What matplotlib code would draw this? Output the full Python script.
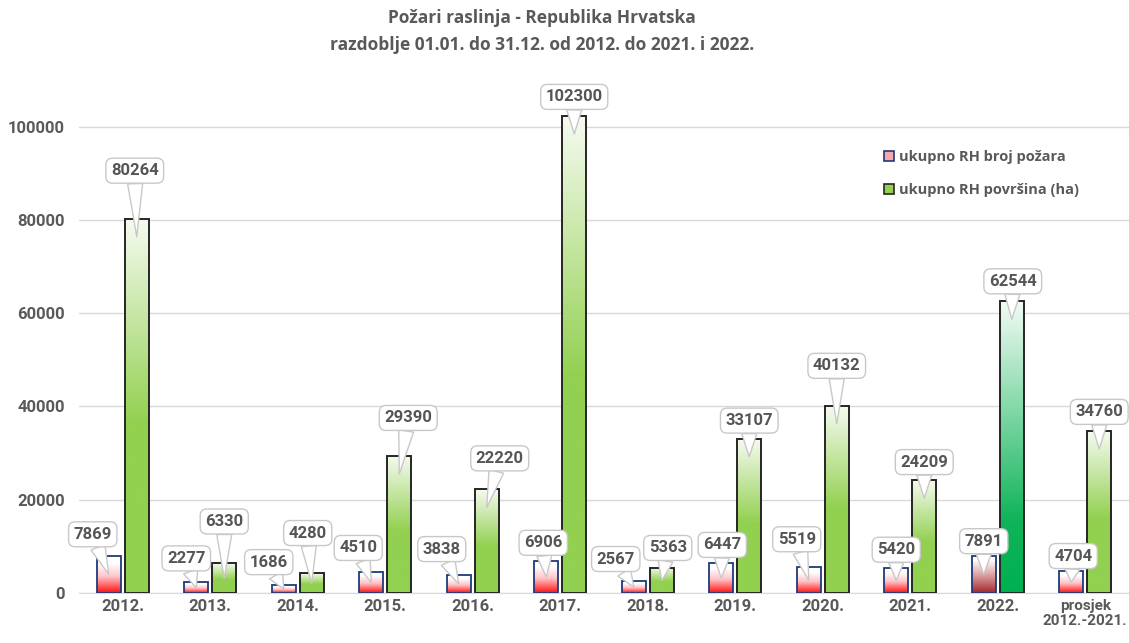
import numpy as np
import matplotlib
matplotlib.use("Agg")
import matplotlib.pyplot as plt
from matplotlib.colors import LinearSegmentedColormap
from matplotlib.patches import Patch

# ---------------- data ----------------
categories = ["2012.", "2013.", "2014.", "2015.", "2016.", "2017.", "2018.",
              "2019.", "2020.", "2021.", "2022.", "prosjek\n2012.-2021."]
broj_pozara = [7869, 2277, 1686, 4510, 3838, 6906, 2567, 6447, 5519, 5420, 7891, 4704]
povrsina_ha = [80264, 6330, 4280, 29390, 22220, 102300, 5363, 33107, 40132, 24209, 62544, 34760]
series_names = ["ukupno RH broj požara", "ukupno RH površina (ha)"]
y_ticks = [0, 20000, 40000, 60000, 80000, 100000]
title_lines = ["Požari raslinja - Republika Hrvatska",
               "razdoblje 01.01. do 31.12. od 2012. do 2021. i 2022."]

# label callout offsets (pixels: dx right, dy up from bar top to box centre)
red_off = [(-16, 22), (-10, 24), (-15, 23), (-13, 24), (-17, 26), (-3, 18),
           (-18, 22), (1, 18), (-12, 28), (0, 18), (0, 15), (2, 15)]
green_off = [(-2, 48), (0, 42), (-4, 40), (9, 38), (13, 31), (0, 19),
             (6, 20), (0, 18), (0, 40), (0, 18), (1, 20), (0, 19)]

W, H, DPI = 1129, 643, 100
LBL_FONT = ['Roboto', 'DejaVu Sans']
plt.rcParams['font.family'] = ['Open Sans', 'DejaVu Sans']
fig = plt.figure(figsize=(W / DPI, H / DPI), dpi=DPI)
fig.patch.set_facecolor('white')

ax_left, ax_right, ax_bottom, ax_top = 79, 1129, 593, 80
ax = fig.add_axes([ax_left / W, (H - ax_bottom) / H,
                   (ax_right - ax_left) / W, (ax_bottom - ax_top) / H])
ymax = 110000
px_per_unit = (ax_bottom - ax_top) / ymax

TXT = '#595959'
GRID = '#D9D9D9'

cm_red = LinearSegmentedColormap.from_list('r', [(0, '#FF1010'), (0.45, '#FFC4C8'), (0.8, '#FFFFFF'), (1, '#FFFFFF')])
cm_red_dark = LinearSegmentedColormap.from_list('rd', [(0, '#A3262B'), (0.5, '#DDA3A4'), (0.9, '#FFFFFF'), (1, '#FFFFFF')])
cm_green = LinearSegmentedColormap.from_list('g', [(0, '#92D050'), (0.45, '#92D050'), (1, '#F6FBF1')])
cm_green_dark = LinearSegmentedColormap.from_list('gd', [(0, '#00B050'), (0.25, '#10B459'), (1, '#F2FBF5')])

x = np.arange(len(categories))
bw = 24 / 87.5
off = 14 / 87.5

red_bars = ax.bar(x - off, broj_pozara, bw, facecolor='none', edgecolor='#1F3A7A', linewidth=1.3, zorder=3)
green_bars = ax.bar(x + off, povrsina_ha, bw, facecolor='none', edgecolor='#262626', linewidth=1.4, zorder=3)

grad = np.linspace(0, 1, 256)[:, None]
n = len(categories)
for i, (rb, gb) in enumerate(zip(red_bars, green_bars)):
    for bar, cmap in ((rb, cm_red_dark if i == n - 2 else cm_red),
                      (gb, cm_green_dark if i == n - 2 else cm_green)):
        x0 = bar.get_x(); w = bar.get_width(); h = bar.get_height()
        im = ax.imshow(grad, extent=(x0, x0 + w, 0, h), origin='lower', aspect='auto',
                       cmap=cmap, vmin=0, vmax=1, zorder=2, interpolation='bilinear')
        im.set_clip_path(bar)

ax.set_xlim(-0.5, n - 0.5)
ax.set_ylim(0, ymax)
ax.set_yticks(y_ticks)
ax.set_yticklabels([str(t) for t in y_ticks])
ax.set_xticks(x)
ax.set_xticklabels(categories)
ax.grid(axis='y', color=GRID, linewidth=1, zorder=0)
ax.set_axisbelow(True)
for s in ('top', 'right', 'left'):
    ax.spines[s].set_visible(False)
ax.spines['bottom'].set_color(GRID)
ax.tick_params(axis='both', length=0, colors=TXT, labelsize=12)
ax.tick_params(axis='x', pad=4)
ax.tick_params(axis='y', pad=10)
for t in ax.get_xticklabels() + ax.get_yticklabels():
    t.set_fontweight('bold')
    t.set_color(TXT)
    t.set_family(LBL_FONT)
last = ax.get_xticklabels()[-1]
last.set_fontsize(11)
last.set_linespacing(1.15)
last.set_x(n - 1.03)

# callouts
def callout(bar, val, dx, dy):
    h = bar.get_height()
    hp = h * px_per_unit
    depth = min(18, 0.5 * hp)
    xc = bar.get_x() + bar.get_width() / 2
    y_tail = h - depth / px_per_unit
    ax.annotate(str(val), xy=(xc, y_tail), xycoords='data',
                xytext=(dx, dy + depth), textcoords='offset pixels',
                ha='center', va='center', fontsize=12, fontweight='bold', color='#555555',
                family=LBL_FONT,
                bbox=dict(boxstyle='round,pad=0.3,rounding_size=0.4', fc='white', ec='#C8C8C8', lw=1),
                arrowprops=dict(arrowstyle='wedge,tail_width=0.9,shrink_factor=0.5',
                                fc='white', ec='#C8C8C8', lw=1, shrinkA=0, shrinkB=0),
                zorder=6, annotation_clip=False)

for i in range(n):
    callout(red_bars[i], broj_pozara[i], *red_off[i])
    callout(green_bars[i], povrsina_ha[i], *green_off[i])

# legend
handles = [Patch(facecolor='#F7A8AE', edgecolor='#1F3A7A', linewidth=1.2),
           Patch(facecolor='#92D050', edgecolor='#262626', linewidth=1.2)]
leg = fig.legend(handles, series_names, loc='upper left',
                 bbox_to_anchor=(884 / W, 1 - 150 / H), frameon=False,
                 prop={'weight': 'bold', 'size': 10.5}, handlelength=0.7, handleheight=0.7,
                 handletextpad=0.35, labelspacing=1.3, borderpad=0, borderaxespad=0)
for t in leg.get_texts():
    t.set_color(TXT)

# title
for k, line in enumerate(title_lines):
    fig.text(542 / W, 1 - (18 + 27 * k) / H, line, ha='center', va='center',
             fontsize=12.5, fontweight='bold', color=TXT,
             family=['Open Sans', 'DejaVu Sans'])

fig.savefig('out.png', dpi=DPI, facecolor='white')
